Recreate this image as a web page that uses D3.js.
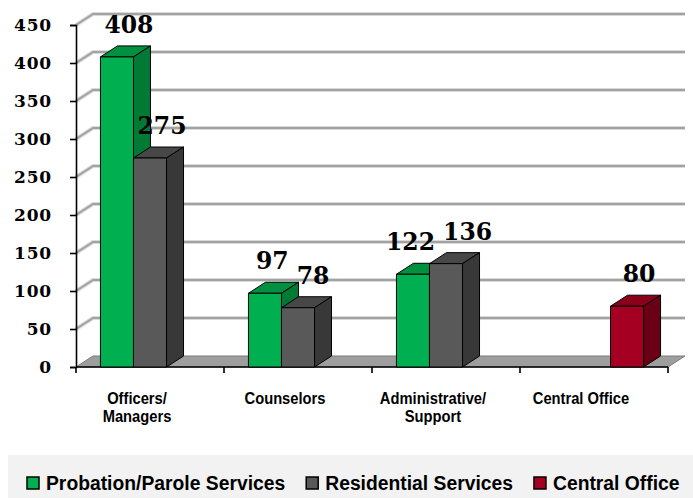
<!DOCTYPE html>
<html>
<head>
<meta charset="utf-8">
<script src="https://cdn.jsdelivr.net/npm/d3@7"></script>
<style>
  html, body { margin: 0; padding: 0; background: #fff; }
  svg { display: block; }
  .num { font-family: 'DejaVu Serif', serif; font-weight: bold; }
</style>
</head>
<body>
<svg id="chart" width="693" height="498"></svg>
<script>
// Staffing by function, three service areas
const categoryLines = [["Officers/", "Managers"], ["Counselors"], ["Administrative/", "Support"], ["Central Office"]];
const seriesNames = ["Probation/Parole Services", "Residential Services", "Central Office"];
const probation = [408, 97, 122, null];
const residential = [275, 78, 136, null];
const centralOffice = [null, null, null, 80];
const yTicks = [0, 50, 100, 150, 200, 250, 300, 350, 400, 450];

const seriesValues = [probation, residential, centralOffice];
const palette = [
  { front: "#00b050", top: "#00903f", side: "#007a35" },
  { front: "#595959", top: "#474747", side: "#383838" },
  { front: "#a50021", top: "#8a001b", side: "#6a0015" }
];

const svg = d3.select("#chart");
const W = 693, H = 498;
svg.append("rect").attr("width", W).attr("height", H).attr("fill", "#fff");

// depth of the 3-D projection (offset of the back plane)
const dx = 17, dy = -11;
const plot = { left: 76, right: 668, top: 25, bottom: 367 };

const y = d3.scaleLinear().domain([0, 450]).range([plot.bottom, plot.top]);
const x = d3.scaleBand().domain(d3.range(categoryLines.length)).range([plot.left, plot.right]).padding(0);
const xs = d3.scaleBand().domain(d3.range(seriesNames.length)).range([0, x.bandwidth()])
  .paddingInner(0).paddingOuter(0.74);

// gridlines: left-wall diagonal + back wall
const grid = svg.append("g");
yTicks.filter(t => t > 0).forEach(t => {
  const yy = y(t);
  const pts = [[plot.left, yy], [plot.left + dx, yy + dy], [plot.right + dx, yy + dy]];
  grid.append("path").attr("d", d3.line()(pts)).attr("fill", "none")
    .attr("stroke", "#dadada").attr("stroke-width", 4);
  grid.append("path").attr("d", d3.line()(pts)).attr("fill", "none")
    .attr("stroke", "#a2a2a2").attr("stroke-width", 2);
});

// floor
svg.append("path")
  .attr("d", d3.line()([[plot.left, y(0)], [plot.right, y(0)], [plot.right + dx, y(0) + dy], [plot.left + dx, y(0) + dy]]) + "Z")
  .attr("fill", "#9e9e9e").attr("stroke", "#7a7a7a").attr("stroke-width", 1);

// y axis
const yAxis = svg.append("g").attr("transform", `translate(${plot.left},0)`)
  .call(d3.axisLeft(y).tickValues(yTicks).tickSize(6).tickPadding(18).tickFormat(d3.format("d")));
yAxis.select(".domain").attr("stroke", "#000").attr("stroke-width", 1.6);
yAxis.selectAll(".tick line").attr("stroke", "#000").attr("stroke-width", 1.6);
yAxis.selectAll(".tick text")
  .attr("class", "num").attr("font-family", null)
  .attr("font-size", 17).attr("letter-spacing", 0.8).attr("fill", "#000");

// x axis line and category ticks
const xAxis = svg.append("g").attr("transform", `translate(0,${y(0)})`);
xAxis.append("line").attr("x1", plot.left).attr("x2", plot.right).attr("stroke", "#000").attr("stroke-width", 1.6);
d3.range(categoryLines.length + 1).forEach(i => {
  const xx = i < categoryLines.length ? x(i) : x(i - 1) + x.bandwidth();
  xAxis.append("line").attr("x1", xx).attr("x2", xx).attr("y1", 0).attr("y2", 6)
    .attr("stroke", "#000").attr("stroke-width", 1.6);
});

// bars as boxes
const bars = svg.append("g");
const labels = [];
categoryLines.forEach((_, i) => {
  seriesValues.forEach((vals, j) => {
    const v = vals[i];
    if (v == null) return;
    const x0 = x(i) + xs(j), x1 = x0 + xs.bandwidth();
    const y0 = y(0), y1 = y(v);
    const c = palette[j];
    const g = bars.append("g").attr("stroke", "#000").attr("stroke-width", 1).attr("stroke-linejoin", "round");
    g.append("path").attr("fill", c.top)
      .attr("d", d3.line()([[x0, y1], [x0 + dx, y1 + dy], [x1 + dx, y1 + dy], [x1, y1]]) + "Z");
    g.append("path").attr("fill", c.side)
      .attr("d", d3.line()([[x1, y1], [x1 + dx, y1 + dy], [x1 + dx, y0 + dy], [x1, y0]]) + "Z");
    g.append("rect").attr("fill", c.front)
      .attr("x", x0).attr("y", y1).attr("width", x1 - x0).attr("height", y0 - y1);
    labels.push({ v, cat: i, cx: (x0 + x1) / 2 + 12, by: y1 - 24 });
  });
});

// value labels, spread apart where neighbours in a category collide
const valueText = svg.append("g").selectAll("text").data(labels).join("text")
  .attr("class", "num")
  .attr("x", d => d.cx).attr("y", d => d.by)
  .attr("text-anchor", "middle")
  .attr("font-size", 23.5).attr("fill", "#000")
  .text(d => d.v);
valueText.each(function (d) { d.w = this.getComputedTextLength(); });
for (let a = 0; a < labels.length; a++) {
  for (let b = a + 1; b < labels.length; b++) {
    const L = labels[a], R = labels[b];
    if (L.cat !== R.cat || Math.abs(L.by - R.by) > 18) continue;
    const need = (L.w + R.w) / 2 + 8 - (R.cx - L.cx);
    if (need > 0) { L.cx -= need * 0.6; R.cx += need * 0.4; }
  }
}
valueText.attr("x", d => d.cx);

// category labels
const catG = svg.append("g");
categoryLines.forEach((lines, i) => {
  const cx = x(i) + x.bandwidth() / 2 - dx + 4;
  const t = catG.append("text")
    .attr("transform", `translate(${cx},404) scale(0.92,1)`)
    .attr("text-anchor", "middle")
    .attr("font-family", "'Liberation Sans', Arial, sans-serif").attr("font-weight", "bold")
    .attr("font-size", 16).attr("fill", "#000");
  lines.forEach((ln, k) => {
    t.append("tspan").attr("x", 0).attr("dy", k === 0 ? 0 : 18.5).text(ln);
  });
});

// legend
const legend = svg.append("g");
legend.append("rect").attr("x", 8).attr("y", 455).attr("width", W - 8).attr("height", H - 455).attr("fill", "#f2f2f2");
let lx = 27;
seriesNames.forEach((name, j) => {
  legend.append("rect").attr("x", lx).attr("y", 477).attr("width", 12).attr("height", 12)
    .attr("fill", palette[j].front).attr("stroke", "#000").attr("stroke-width", 1.5);
  const sx = 0.92;
  const t = legend.append("text").attr("transform", `translate(${lx + 19},490) scale(${sx},1)`)
    .attr("font-family", "'Liberation Sans', Arial, sans-serif").attr("font-weight", "bold")
    .attr("font-size", 21).attr("fill", "#000").text(name);
  lx += 19 + t.node().getComputedTextLength() * sx + 21;
});
</script>
</body>
</html>
